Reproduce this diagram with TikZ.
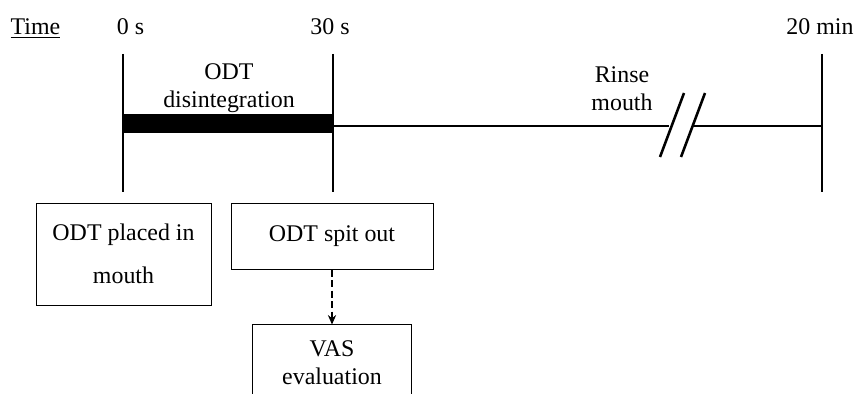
\documentclass[tikz,border=0pt]{standalone}
\usepackage{fontspec}
\setmainfont{Liberation Serif}
\usetikzlibrary{
	positioning,
	arrows.meta
}

\begin{document}
\begin{tikzpicture}[
	x=0.03cm, y=-0.03cm,
	node distance =0mm,
	txt/.style = {
		font=\fontsize{20.4pt}{24.2pt}\selectfont,
		align=center,
		inner sep=0pt
	},
	event/.style = {
		rectangle,
		draw,
		line width=0.8pt,
		txt
	},
	tickline/.style = {line width=2.5pt},
	axis/.style = {line width=2.2pt},
]
	\clip (0,0) rectangle (859,394);
	\useasboundingbox (0,0) rectangle (859,394);

	% time labels
	\node (time) [txt, anchor=base] at (35.5,35) {\underline{Time}};
	\node (t0) [txt, anchor=base] at (130.5,35) {0 s};
	\node (t30) [txt, anchor=base] at (330,35) {30 s};
	\node (t20) [txt, anchor=base] at (820,35) {20 min};

	% phases
	\node (disint) [txt] at (229,88) {ODT\\disintegration};
	\node (rinse) [txt] at (622,89) {Rinse\\mouth};

	\fill (123,114) rectangle (333,133);
	\draw[axis] (333,126) -- (669,126);
	\draw[axis] (693,126) -- (822,126);
	\draw[axis] (660,157) -- (684,93);
	\draw[axis] (681,157) -- (705,93);

	\draw[tickline] (123,54) -- (123,192);
	\draw[tickline] (333,54) -- (333,192);
	\draw[tickline] (822,54) -- (822,192);

	% events
	\node (placed) [event, minimum width=5.25cm, minimum height=3.06cm] at (123.5,254) {ODT placed in\\[13pt]mouth};
	\node (spit) [event, minimum width=6.06cm, minimum height=1.98cm] at (332,236) {ODT spit out};
	\node (vas) [event, minimum width=4.77cm, minimum height=2.28cm, below=1.65cm of spit] {VAS\\evaluation};

	\draw[line width=1.6pt, dash pattern=on 6pt off 3pt, -{Stealth[length=8pt, width=7pt]}] (spit) -- (vas);
\end{tikzpicture}
\end{document}
